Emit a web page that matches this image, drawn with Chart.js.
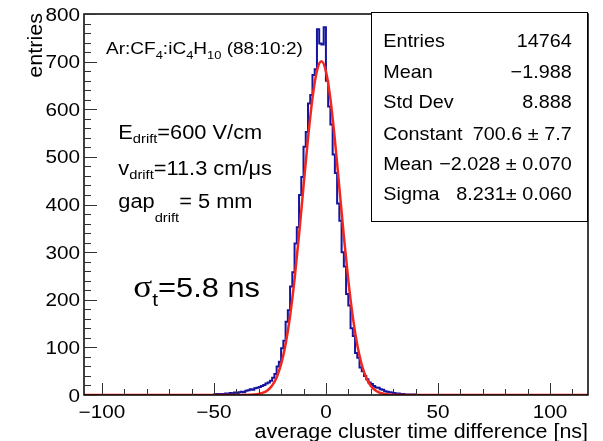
<!DOCTYPE html>
<html><head><meta charset="utf-8">
<script src="https://cdn.jsdelivr.net/npm/chart.js@4.4.1/dist/chart.umd.min.js"></script>
<style>html,body{margin:0;padding:0;background:#fff;}#wrap{width:603px;height:441px;}</style>
</head><body><div id="wrap"><canvas id="c" width="603" height="441"></canvas></div>
<script>
// ---- data ----
const histRange = [-108, 117];          // histogram x range [ns], 1 ns bins
const countsFirstEdge = -49;            // lower edge of first listed bin
const counts = [
  1,2,1,2,2,3,2,4,3,5,
  4,6,7,6,9,10,12,11,14,15,
  17,19,21,24,26,30,36,44,60,70,
  98,114,154,178,228,258,318,352,420,458,
  521,552,612,630,672,684,768,738,736,772,
  660,606,568,505,466,402,366,300,270,212,
  188,140,124,88,78,58,50,40,33,26,
  23,19,16,15,12,11,8,7,6,5,
  4,3,3,2,2,1,1,1,0,1
];
const fitX = [-108,-40,-36,-34,-32,-30,-28,-26,-24,-22,-20,-18,-16,-14,-12,-10,-8,-6,-4,-2,0,2,4,6,8,10,12,14,16,18,20,22,24,26,28,30,34,117];
const fitY = [0,0,0.1,0.35,0.9,2.2,4.8,10.1,19.9,36.9,64.7,106.7,165.9,243.3,336.4,438.4,538.6,623.7,680.8,700.6,679.6,621.6,535.8,435.3,333.4,240.8,163.9,105.2,63.6,36.3,19.5,9.9,4.7,2.1,0.9,0.35,0.05,0];
const yRange = [0, 800];
const yMajorStep = 100, yMinorStep = 20;
const xMajorStep = 50, xMinorStep = 10;
const xTitle = "average cluster time difference [ns]";
const yTitle = "entries";
const statsNames = ["Entries","Mean","Std Dev","Constant","Mean","Sigma"];
const statsValues = ["14764","\u22121.988","8.888","700.6 \u00b1 7.7","\u22122.028 \u00b1 0.070","8.231\u00b1 0.060"];

// ---- helpers ----
const SANS = "'Liberation Sans', Arial, Helvetica, sans-serif";
const SERIF = "'Liberation Serif', 'DejaVu Serif', serif";
function drawText(ctx, s, x, y, size, align, sx, family) {
  align = align || 'left'; sx = sx || 1.1; family = family || SANS;
  ctx.font = size + 'px ' + family;
  const w = ctx.measureText(s).width * sx;
  let x0 = x;
  if (align === 'right') x0 = x - w; else if (align === 'center') x0 = x - w / 2;
  ctx.save(); ctx.translate(x0, y); ctx.scale(sx, 1);
  ctx.textAlign = 'left'; ctx.textBaseline = 'alphabetic';
  ctx.fillText(s, 0, 0); ctx.restore();
  return w;
}
function drawRich(ctx, parts, x, y, sx) {
  let cx = x;
  for (const p of parts) cx += drawText(ctx, p[0], cx, y + (p[2] || 0), p[1], 'left', sx, p[3] || SANS);
  return cx - x;
}
function fmt(v) { return v < 0 ? '\u2212' + Math.abs(v) : String(v); }

const histPoints = [];
for (let e = histRange[0]; e < histRange[1]; e++) {
  const i = e - countsFirstEdge;
  histPoints.push({x: e, y: (i >= 0 && i < counts.length) ? counts[i] : 0});
}
histPoints.push({x: histRange[1], y: 0});
const fitPoints = fitX.map((x, i) => ({x: x, y: fitY[i]}));

const rootPlugin = {
  id: 'rootStyle',
  afterDraw(chart) {
    const ctx = chart.ctx, a = chart.chartArea;
    const xs = chart.scales.x, ys = chart.scales.y;
    ctx.save();
    // frame
    ctx.strokeStyle = '#000'; ctx.lineWidth = 1.5;
    ctx.strokeRect(a.left, a.top, a.right - a.left, a.bottom - a.top);
    // ticks
    ctx.strokeStyle = '#333'; ctx.lineWidth = 1;
    ctx.beginPath();
    for (let v = yRange[0]; v <= yRange[1]; v += yMinorStep) {
      const py = Math.round(ys.getPixelForValue(v)) + 0.5;
      const len = (v % yMajorStep === 0) ? 13 : 7;
      ctx.moveTo(a.left, py); ctx.lineTo(a.left + len, py);
    }
    const xStart = Math.ceil(histRange[0] / xMinorStep) * xMinorStep;
    for (let v = xStart; v <= histRange[1]; v += xMinorStep) {
      const px = Math.round(xs.getPixelForValue(v)) + 0.5;
      const len = (v % xMajorStep === 0) ? 12 : 6;
      ctx.moveTo(px, a.bottom); ctx.lineTo(px, a.bottom - len);
    }
    ctx.stroke();
    // tick labels from the library's ticks
    ctx.fillStyle = '#000';
    for (const t of ys.ticks) {
      const py = ys.getPixelForValue(t.value);
      drawText(ctx, fmt(t.value), 80, py + 6.5, 18, 'right', 1.15);
    }
    for (const t of xs.ticks) {
      if (t.value < histRange[0] || t.value > histRange[1]) continue;
      const px = xs.getPixelForValue(t.value);
      drawText(ctx, fmt(t.value), px, 418, 18, 'center', 1.15);
    }
    // axis titles
    drawText(ctx, xTitle, 588, 438, 19.5, 'right', 1.1);
    ctx.save(); ctx.translate(42, 13); ctx.rotate(-Math.PI / 2);
    drawText(ctx, yTitle, 0, 0, 20, 'right', 1.08);
    ctx.restore();
    // annotations
    drawRich(ctx, [["Ar:CF",17],["4",11.5,5],[":iC",17],["4",11.5,5],["H",17],["10",11.5,5],[" (88:10:2)",17]], 106, 54, 1.12);
    drawRich(ctx, [["E",20],["drift",13.5,4],["=600 V/cm",20]], 118.3, 139.3, 1.09);
    drawRich(ctx, [["v",20],["drift",13.5,4],["=11.3 cm/\u03bcs",20]], 118.3, 175, 1.09);
    drawRich(ctx, [["gap",20],["drift",13.5,13.5],["= 5 mm",20]], 118.3, 208.3, 1.09);
    drawRich(ctx, [["\u03c3",32,0,SERIF],["t",19,9],["=5.8 ns",28]], 133.3, 297.3, 1.1);
    // stats box
    ctx.fillStyle = '#fff'; ctx.fillRect(371.5, 12.5, 216, 209);
    ctx.strokeStyle = '#000'; ctx.lineWidth = 1;
    ctx.strokeRect(371.5, 12.5, 216, 209);
    ctx.fillStyle = '#000';
    const rowBase = [46.6, 78.3, 108.3, 140, 170, 200];
    for (let i = 0; i < statsNames.length; i++) {
      drawText(ctx, statsNames[i], 383.3, rowBase[i], 18.5, 'left', 1.07);
      drawText(ctx, statsValues[i], 571.7, rowBase[i], 18.5, 'right', 1.07);
    }
    ctx.restore();
  }
};

new Chart(document.getElementById('c'), {
  type: 'line',
  data: {datasets: [
    {data: fitPoints, borderColor: 'rgb(242,38,28)', borderWidth: 2.5, pointRadius: 0, cubicInterpolationMode: 'monotone', fill: false},
    {data: histPoints, stepped: 'after', borderColor: '#1414a0', borderWidth: 2, pointRadius: 0, fill: false}
  ]},
  options: {
    responsive: false, animation: false, events: [],
    layout: {padding: {top: 14, right: 15, left: 0, bottom: 0}},
    plugins: {legend: {display: false}, tooltip: {enabled: false}},
    scales: {
      x: {type: 'linear', min: histRange[0], max: histRange[1],
          ticks: {display: false, stepSize: xMajorStep, includeBounds: false},
          grid: {display: false}, border: {display: false},
          afterFit: s => { s.height = 46; }},
      y: {type: 'linear', min: yRange[0], max: yRange[1],
          ticks: {display: false, stepSize: yMajorStep},
          grid: {display: false}, border: {display: false},
          afterFit: s => { s.width = 84; }}
    }
  },
  plugins: [rootPlugin]
});
</script></body></html>
